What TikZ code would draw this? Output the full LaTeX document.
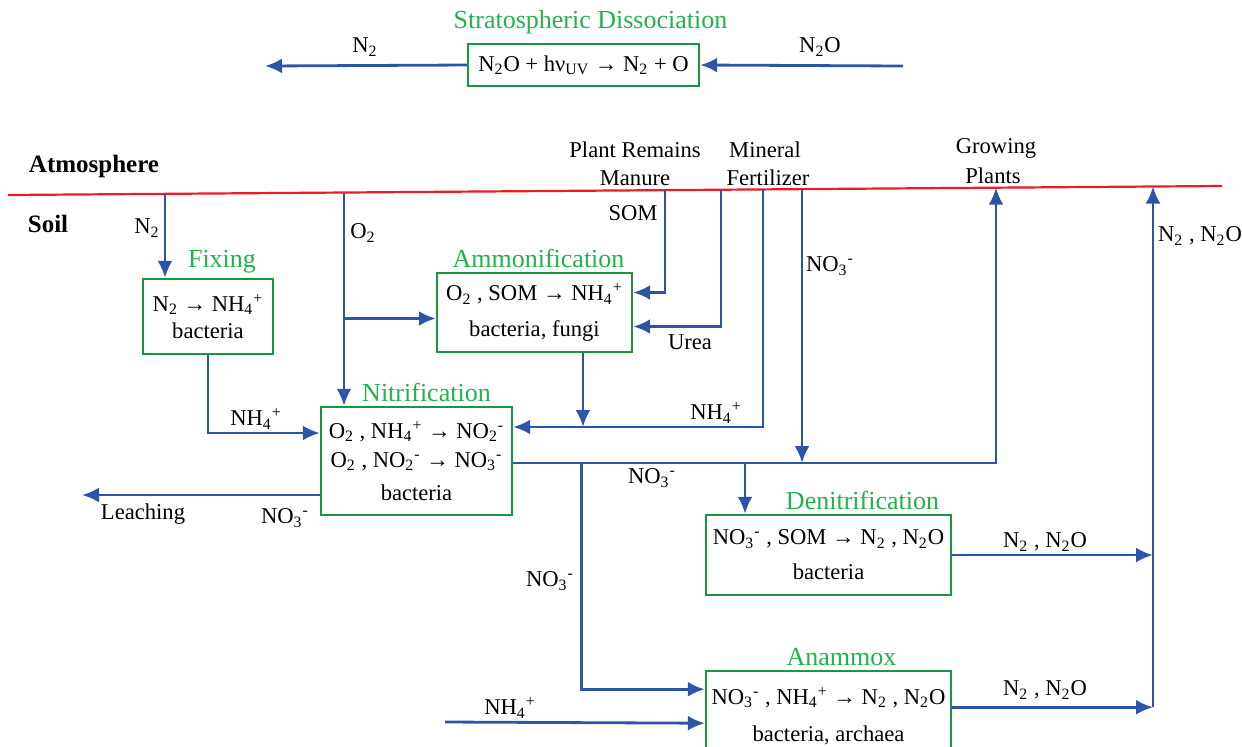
\documentclass[tikz,border=0pt]{standalone}
\usepackage{fontspec}
\setmainfont{Liberation Serif}
\usepackage{xcolor}
\usepackage{tikz}
\usetikzlibrary{arrows.meta, positioning, calc}

\definecolor{flowblue}{RGB}{46,84,168}
\definecolor{boxgreen}{RGB}{24,150,66}
\definecolor{titlegreen}{RGB}{34,178,76}
\definecolor{soilred}{RGB}{236,28,36}

\newcommand{\Ntwo}{N\textsubscript{2}}
\newcommand{\Otwo}{O\textsubscript{2}}
\newcommand{\NtwoO}{N\textsubscript{2}O}
\newcommand{\NHfour}{NH\textsubscript{4}\textsuperscript{+}}
\newcommand{\NOtwo}{NO\textsubscript{2}\textsuperscript{-}}
\newcommand{\NOthree}{NO\textsubscript{3}\textsuperscript{-}}

\begin{document}
\begin{tikzpicture}[x=0.5pt, y=-0.5pt,
    font=\fontsize{11.3}{13.6}\selectfont,
    process/.style={rectangle, draw=boxgreen, line width=1.2pt, align=center, inner sep=2pt},
    title/.style={text=titlegreen, font=\fontsize{13}{15}\selectfont, inner sep=1pt},
    label/.style={inner sep=1pt},
    layer/.style={font=\fontsize{12.5}{15}\selectfont\bfseries, inner sep=1pt},
    flow/.style={draw=flowblue, line width=1.4pt, -{Latex[length=8.5pt, width=7.5pt]}}]

    \useasboundingbox (0,0) rectangle (1242,746);

    % boundary between atmosphere and soil
    \coordinate (atmL) at (8,195);
    \coordinate (atmR) at (1222,186);
    \draw [soilred, line width=1.1pt] (atmL) -- (atmR);
    \node [layer] at (94,166) {Atmosphere};
    \node [layer] at (48,224) {Soil};

    % process boxes
    \node [process, minimum width=115.5pt, minimum height=21pt] (strat) at (583.5,65) {\NtwoO{} + hν\textsubscript{UV} → \Ntwo{} + O};
    \node [process, minimum width=65pt, minimum height=37.5pt] (fix) at (208,316.5) {\Ntwo{} → \NHfour\\ bacteria};
    \node [process, minimum width=97.5pt, minimum height=39.5pt] (amm) at (534.5,312.5) {\Otwo{} , SOM → \NHfour\\[4pt] bacteria, fungi};
    \node [process, minimum width=95.5pt, minimum height=54pt] (nit) at (416.5,461) {\Otwo{} , \NHfour{} → \NOtwo\\[1pt] \Otwo{} , \NOtwo{} → \NOthree\\[3pt] bacteria};
    \node [process, minimum width=122.5pt, minimum height=40pt] (den) at (828.5,555) {\NOthree{} , SOM → \Ntwo{} , \NtwoO\\[4pt] bacteria};
    \node [process, minimum width=122.5pt, minimum height=45pt, anchor=north] (ana) at (828.5,670) {\NOthree{} , \NHfour{} → \Ntwo{} , \NtwoO\\[5pt] bacteria, archaea};

    \node [title, above=3pt of strat, xshift=3.5pt] {Stratospheric Dissociation};
    \node [title, above=1pt of fix, xshift=7pt] {Fixing};
    \node [title, above=1pt of amm, xshift=2pt] {Ammonification};
    \node [title, above=1pt of nit, xshift=5pt] {Nitrification};
    \node [title, above=1pt of den, xshift=17pt] {Denitrification};
    \node [title, above=1pt of ana, xshift=6.5pt] {Anammox};

    % entry and exit points
    \coordinate (n2out) at (265,66);
    \coordinate (n2oin) at (903,66);
    \coordinate (fixin) at (165,193.8);
    \coordinate (o2in) at (344,192.5);
    \coordinate (somin) at (665,190.1);
    \coordinate (ureain) at (721,189.7);
    \coordinate (nhin) at (763,189.4);
    \coordinate (noin) at (802,189.1);
    \coordinate (plants) at (996,187.7);
    \coordinate (n2up) at (1153,186.5);
    \coordinate (leach) at (82,495);
    \coordinate (nhana) at (445,722);
    \coordinate (ammW) at ([yshift=-3pt]amm.west);
    \coordinate (nitE) at ([yshift=17pt]nit.east);
    \coordinate (nitO) at ([yshift=-1pt]nit.east);
    \coordinate (anaE) at ([yshift=4.5pt]ana.east);

    % connectors
    \draw [flow] (strat.west) -- (n2out);
    \draw [flow] (n2oin) -- (strat.east);
    \draw [flow] (fixin) -- (fixin |- fix.north);
    \draw [flow] (o2in) -- (o2in |- nit.north);
    \draw [flow] (o2in |- ammW) -- (ammW);
    \draw [flow] (somin) |- ([yshift=10pt]amm.east);
    \draw [flow] (ureain) |- ([yshift=-7pt]amm.east);
    \draw [flow] (nhin) |- (nitE);
    \draw [flow] ([xshift=24.25pt]amm.south) -- ([xshift=24.25pt]amm.south |- nitE);
    \draw [flow] (fix.south) |- ([yshift=14pt]nit.west);
    \draw [flow] ([yshift=-17pt]nit.west) -- (leach);
    \draw [flow] (nitO) -| (plants);
    \draw [flow] (noin) -- (noin |- nitO);
    \draw [flow] ([xshift=-41.75pt]den.north |- nitO) -- ([xshift=-41.75pt]den.north);
    \draw [flow] ([xshift=34pt]nitO) |- ([yshift=13.5pt]ana.west);
    \draw [flow] (nhana) -- ([yshift=-3.5pt]ana.west);
    \draw [flow] (den.east) -- (den.east -| n2up);
    \draw [flow] (anaE) -- (anaE -| n2up);
    \draw [flow] (anaE -| n2up) -- (n2up);

    % labels
    \node [label] at (365,47) {\Ntwo};
    \node [label] at (820,47) {\NtwoO};
    \node [label] at (147,228) {\Ntwo};
    \node [label] at (363,233) {\Otwo};
    \node [label] at (635,150) {Plant Remains};
    \node [label] at (635,178) {Manure};
    \node [label] at (633,213) {SOM};
    \node [label] at (765,150) {Mineral};
    \node [label] at (768,178) {Fertilizer};
    \node [label] at (690,342) {Urea};
    \node [label] at (716,413) {\NHfour};
    \node [label] at (830,266) {\NOthree};
    \node [label] at (996,148) {Growing};
    \node [label] at (993,176) {Plants};
    \node [label] at (1200,236) {\Ntwo{} , \NtwoO};
    \node [label] at (256,419) {\NHfour};
    \node [label] at (143,514) {Leaching};
    \node [label] at (285,518) {\NOthree};
    \node [label] at (652,478) {\NOthree};
    \node [label] at (550,581) {\NOthree};
    \node [label] at (1045,542) {\Ntwo{} , \NtwoO};
    \node [label] at (1045,690) {\Ntwo{} , \NtwoO};
    \node [label] at (510,708) {\NHfour};
\end{tikzpicture}
\end{document}
